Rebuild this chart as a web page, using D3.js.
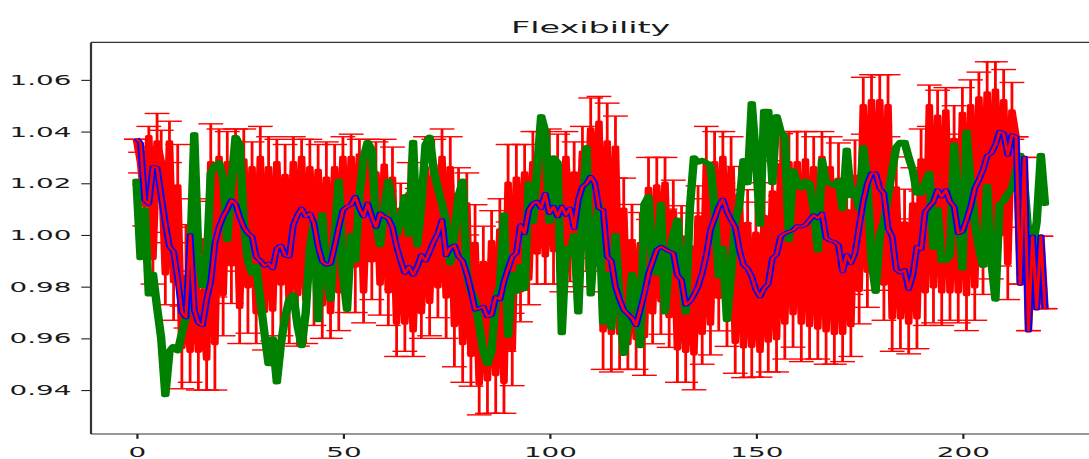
<!DOCTYPE html>
<html>
<head>
<meta charset="utf-8">
<script src="https://cdn.jsdelivr.net/npm/d3@7"></script>
<style>
  body { margin: 0; background: #fff; }
  svg { display: block; }
</style>
</head>
<body>
<div id="chart"></div>
<script>
// residue-wise flexibility, mean with error, one sequence, and the smoothed mean
const meanFlex = [
  1.037, 1.028, 1.0115, 1.038, 0.991, 1.036, 1.0285, 0.985, 1.036, 0.982,
  1.019, 0.9565, 0.984, 0.955, 1.000, 0.955, 0.9785, 0.952, 1.028, 0.958,
  1.030, 0.977, 1.028, 0.9885, 1.030, 0.972, 1.029, 0.980, 1.026, 0.970,
  1.030, 0.9705, 1.026, 0.971, 1.028, 0.981, 1.023, 0.973, 1.028, 0.977,
  1.030, 0.975, 1.026, 0.985, 1.025, 0.973, 1.022, 0.970, 1.026, 0.978,
  1.030, 0.982, 1.030, 0.988, 1.031, 0.978, 1.027, 0.990, 1.024, 0.981,
  1.027, 0.978, 1.022, 0.966, 1.010, 0.966, 1.016, 0.963, 1.004, 0.970,
  1.026, 0.974, 1.027, 0.980, 1.030, 0.976, 1.026, 0.965, 1.016, 0.958,
  1.012, 0.9535, 0.9967, 0.9424, 0.9894, 0.944, 0.9974, 0.946, 1.002, 0.943,
  1.020, 0.9557, 1.022, 0.9784, 1.024, 0.983, 1.028, 0.993, 1.030, 0.992,
  1.029, 0.994, 1.027, 0.992, 1.030, 0.995, 1.024, 0.990, 1.032, 0.998,
  1.041, 1.003, 1.0436, 0.963, 1.036, 0.962, 1.034, 0.962, 1.010, 0.958,
  0.9978, 0.960, 0.9967, 0.9607, 1.018, 0.9699, 1.019, 0.9746, 1.020, 0.9685,
  1.0092, 0.956, 0.9993, 0.955, 0.9955, 0.9541, 1.007, 0.962, 1.028, 0.9656,
  1.028, 0.9759, 1.030, 0.9699, 1.026, 0.9585, 1.0155, 0.9568, 1.0045, 0.957,
  1.0007, 0.955, 1.0072, 0.959, 1.0167, 0.960, 1.0272, 0.966, 1.028, 0.9696,
  1.028, 0.966, 1.029, 0.965, 1.026, 0.964, 1.030, 0.963, 1.026, 0.962,
  1.0216, 0.962, 1.0094, 0.965, 1.0227, 0.9786, 1.050, 0.986, 1.052, 0.9916,
  1.052, 0.981, 1.050, 0.968, 1.0182, 0.968, 1.0047, 0.966, 1.012, 0.968,
  1.029, 0.978, 1.050, 0.980, 1.046, 0.978, 1.048, 0.978, 1.037, 0.978,
  1.047, 0.977, 1.050, 0.980, 1.053, 0.991, 1.055, 0.996, 1.056, 1.000,
  1.052, 0.989, 1.048, 1.038, 0.981, 1.030, 0.963, 0.9995, 0.9715, 0.9995,
  0.9715
];
const meanErr = [
  0.000, 0.004, 0.008, 0.004, 0.010, 0.011, 0.012, 0.012, 0.008, 0.015,
  0.016, 0.016, 0.020, 0.012, 0.014, 0.015, 0.020, 0.012, 0.015, 0.018,
  0.011, 0.016, 0.012, 0.015, 0.011, 0.014, 0.012, 0.018, 0.010, 0.012,
  0.012, 0.015, 0.012, 0.012, 0.009, 0.020, 0.012, 0.015, 0.010, 0.020,
  0.007, 0.017, 0.011, 0.020, 0.010, 0.013, 0.014, 0.010, 0.009, 0.015,
  0.008, 0.012, 0.009, 0.018, 0.006, 0.012, 0.010, 0.015, 0.012, 0.012,
  0.010, 0.013, 0.012, 0.013, 0.010, 0.011, 0.012, 0.010, 0.014, 0.010,
  0.012, 0.013, 0.010, 0.012, 0.011, 0.016, 0.012, 0.016, 0.010, 0.015,
  0.012, 0.012, 0.015, 0.012, 0.014, 0.013, 0.012, 0.015, 0.012, 0.012,
  0.015, 0.014, 0.013, 0.012, 0.011, 0.010, 0.012, 0.012, 0.010, 0.011,
  0.012, 0.013, 0.012, 0.014, 0.010, 0.013, 0.012, 0.010, 0.010, 0.012,
  0.012, 0.012, 0.010, 0.015, 0.015, 0.015, 0.012, 0.014, 0.012, 0.010,
  0.014, 0.012, 0.012, 0.015, 0.012, 0.012, 0.011, 0.013, 0.010, 0.012,
  0.012, 0.013, 0.012, 0.012, 0.013, 0.014, 0.012, 0.012, 0.014, 0.012,
  0.012, 0.013, 0.010, 0.013, 0.012, 0.012, 0.011, 0.012, 0.013, 0.012,
  0.012, 0.010, 0.013, 0.012, 0.012, 0.013, 0.012, 0.014, 0.012, 0.013,
  0.012, 0.015, 0.011, 0.013, 0.012, 0.012, 0.010, 0.013, 0.012, 0.012,
  0.014, 0.011, 0.012, 0.012, 0.014, 0.013, 0.011, 0.014, 0.010, 0.013,
  0.010, 0.014, 0.012, 0.013, 0.012, 0.012, 0.013, 0.012, 0.014, 0.012,
  0.012, 0.013, 0.008, 0.014, 0.010, 0.013, 0.009, 0.011, 0.013, 0.012,
  0.010, 0.014, 0.010, 0.013, 0.010, 0.014, 0.012, 0.013, 0.011, 0.012,
  0.012, 0.014, 0.011, 0.000, 0.000, 0.000, 0.000, 0.000, 0.000, 0.000,
  0.000
];
const seqFlex = [
  1.021, 0.991, 1.010, 0.977, 0.985, 0.972, 0.960, 0.938, 0.955, 0.957,
  0.955, 0.962, 0.968, 0.990, 1.039, 0.992, 0.980, 0.988, 1.024, 1.027,
  1.028, 1.022, 0.998, 1.020, 1.038, 1.035, 1.005, 0.990, 0.985, 0.988,
  0.975, 0.962, 0.950, 0.960, 0.943, 0.958, 0.968, 0.975, 0.977, 0.965,
  0.957, 0.970, 0.995, 1.005, 0.967, 1.008, 0.985, 0.975, 1.000, 1.021,
  0.985, 0.971, 1.000, 0.990, 1.015, 1.030, 1.036, 1.033, 1.005, 0.996,
  1.010, 1.021, 1.010, 1.000, 1.005, 1.015, 1.000, 1.036, 0.996, 1.012,
  1.035, 1.038, 1.025, 1.018, 1.012, 1.005, 0.989, 1.000, 1.015, 1.021,
  0.985, 0.978, 0.975, 0.965, 0.955, 0.950, 0.955, 0.975, 0.980, 1.008,
  0.961, 0.985, 0.978, 0.988, 0.979, 1.020, 1.005, 1.025, 1.046, 1.040,
  1.005, 1.030, 1.028, 0.962, 0.995, 0.992, 1.000, 0.970, 1.010, 1.034,
  0.977, 1.000, 1.012, 0.966, 0.985, 0.964, 1.000, 0.975, 0.954, 0.965,
  0.985, 0.980, 0.957, 1.012, 1.015, 0.990, 0.985, 1.012, 0.970, 0.990,
  1.000, 1.006, 0.985, 0.970, 1.010, 1.030, 1.028, 1.029, 1.028, 1.027,
  1.010, 0.984, 0.995, 0.967, 0.985, 1.005, 1.012, 1.029, 1.020, 1.051,
  1.030, 1.004, 1.048, 1.048, 1.020, 1.046, 1.040, 1.038, 0.998, 1.025,
  1.020, 1.018, 1.021, 1.020, 1.010, 0.994, 1.029, 1.020, 1.020, 1.019,
  1.021, 1.010, 1.033, 1.015, 1.018, 1.010, 1.034, 1.020, 0.990, 0.978,
  1.000, 1.005, 1.015, 1.025, 1.034, 1.036, 1.036, 1.030, 1.025, 1.016,
  1.016, 1.020, 1.024, 0.995, 1.010, 0.990, 0.990, 0.992, 1.035, 1.010,
  0.987, 1.040, 1.020, 1.005, 0.995, 0.988, 1.019, 0.990, 0.975, 1.012,
  1.013, 1.016, 1.018, 1.025, 1.031, 1.020, 1.000, 0.995, 1.005, 1.031,
  1.012
];
const smoothFlex = [
  1.0374, 1.0355, 1.0135, 1.012, 1.0264, 1.026, 1.015, 1.0045, 0.9955, 0.9936,
  0.983, 0.970, 0.968, 1.000, 0.971, 0.966, 0.965, 0.975, 0.982, 0.9968,
  1.003, 1.007, 1.010, 1.0135, 1.012, 1.007, 1.003, 1.0006, 0.9994, 0.9916,
  0.990, 0.988, 0.989, 0.987, 0.9948, 0.996, 0.992, 0.9916, 1.0039, 1.0077,
  1.0103, 1.0071, 1.0084, 1.0045, 0.9955, 0.9897, 0.9884, 0.9888, 0.9955, 1.003,
  1.0097, 1.011, 1.0116, 1.0148, 1.0103, 1.0071, 1.0122, 1.0071, 1.003, 1.0084,
  1.0071, 1.0064, 1.003, 0.9955, 0.990, 0.9852, 0.9877, 0.9845, 0.9877, 0.9923,
  0.990, 0.9936, 0.9974, 1.0006, 1.0058, 0.992, 0.995, 0.996, 0.9916, 0.990,
  0.985, 0.9787, 0.971, 0.9716, 0.9723, 0.9684, 0.969, 0.976, 0.975, 0.982,
  0.987, 0.9916, 0.993, 1.0039, 1.0006, 1.0097, 1.0122, 1.0129, 1.0103, 1.016,
  1.0084, 1.011, 1.0071, 1.011, 1.0077, 1.0103, 1.0026, 1.0135, 1.0187, 1.020,
  1.0226, 1.020, 1.0103, 1.0097, 0.9916, 0.990, 0.980, 0.975, 0.971, 0.9694,
  0.9678, 0.965, 0.971, 0.9774, 0.985, 0.9897, 0.9942, 0.9955, 0.9945, 0.9936,
  0.993, 0.9845, 0.9826, 0.9729, 0.9742, 0.9768, 0.980, 0.9852, 0.9923, 1.0019,
  1.0064, 1.011, 1.0138, 1.009, 1.0058, 1.003, 0.9942, 0.9884, 0.9871, 0.9839,
  0.9787, 0.9761, 0.9794, 0.981, 0.991, 0.9923, 0.9994, 1.0006, 1.0013, 1.0019,
  1.0035, 1.0032, 1.0039, 1.0058, 1.0077, 1.0064, 1.0084, 0.9987, 0.9978, 0.9974,
  0.9961, 0.9858, 0.9923, 0.989, 0.9929, 1.0032, 1.0129, 1.020, 1.0239, 1.0239,
  1.018, 1.0161, 1.0026, 0.9994, 0.9865, 0.9854, 0.9865, 0.979, 0.9845, 0.9955,
  0.9945, 1.009, 1.011, 1.0129, 1.0174, 1.0148, 1.0174, 1.0129, 1.011, 1.0006,
  1.0013, 1.0058, 1.011, 1.018, 1.0213, 1.0251, 1.0306, 1.0316, 1.0348, 1.040,
  1.0393, 1.0309, 1.0387, 1.038, 0.981, 1.030, 0.963, 0.9995, 0.9715, 0.9995,
  0.9715
];
const xTicks = [0, 50, 100, 150, 200];
const yTicks = [0.94, 0.96, 0.98, 1.00, 1.02, 1.04, 1.06];

const width = 1089, height = 459;
// the source picture is stretched sideways, so draw in half width and scale x by 2
const stretchX = 2, stretchY = 1;
const font = "DejaVu Sans";

const svg = d3.select("#chart").append("svg")
    .attr("width", width)
    .attr("height", height);
const g = svg.append("g")
    .attr("transform", "scale(" + stretchX + "," + stretchY + ")");

const plotLeft = 45.5, plotRight = 545.2, plotTop = 42.4, plotBottom = 434;
const x = d3.scaleLinear().domain([-11, 231]).range([plotLeft, plotRight]);
const y = d3.scaleLinear().domain([0.923, 1.0745]).range([plotBottom, plotTop]);

const idx = d3.range(meanFlex.length);

// red error bars
const eb = g.append("g");
eb.append("path")
    .datum(idx)
    .attr("fill", "none")
    .attr("stroke", "#ff0000")
    .attr("stroke-width", 3.8)
    .attr("stroke-linejoin", "round")
    .attr("d", d3.line().x(i => x(i)).y(i => y(meanFlex[i])));
eb.selectAll(".bar")
    .data(idx)
    .enter().append("line")
    .attr("x1", i => x(i)).attr("x2", i => x(i))
    .attr("y1", i => y(meanFlex[i] - meanErr[i]))
    .attr("y2", i => y(meanFlex[i] + meanErr[i]))
    .attr("stroke", "#ff0000")
    .attr("stroke-width", 1.4);
const capHalf = 6.2;
[-1, 1].forEach(s => {
    eb.selectAll(".cap" + s)
        .data(idx)
        .enter().append("line")
        .attr("x1", i => x(i) - capHalf).attr("x2", i => x(i) + capHalf)
        .attr("y1", i => y(meanFlex[i] + s * meanErr[i]))
        .attr("y2", i => y(meanFlex[i] + s * meanErr[i]))
        .attr("stroke", "#ff0000")
        .attr("stroke-width", 1.4);
});

// green single sequence
g.append("path")
    .datum(idx)
    .attr("fill", "none")
    .attr("stroke", "#008000")
    .attr("stroke-width", 4.2)
    .attr("stroke-linejoin", "round")
    .attr("stroke-linecap", "round")
    .attr("d", d3.line().x(i => x(i)).y(i => y(seqFlex[i])));

// smoothed mean: blue under a thin red line
const smoothLine = d3.line().x(i => x(i)).y(i => y(smoothFlex[i]));
g.append("path")
    .datum(idx)
    .attr("fill", "none")
    .attr("stroke", "#0000ff")
    .attr("stroke-width", 3.4)
    .attr("stroke-linejoin", "round")
    .attr("d", smoothLine);
g.append("path")
    .datum(idx)
    .attr("fill", "none")
    .attr("stroke", "#ff0000")
    .attr("stroke-width", 1.5)
    .attr("stroke-linejoin", "round")
    .attr("d", smoothLine);

// axes
const tickLen = 4.86;
const yAxis = g.append("g")
    .attr("transform", "translate(" + plotLeft + ",0)")
    .call(d3.axisLeft(y).tickValues(yTicks).tickFormat(d3.format(".2f"))
        .tickSize(tickLen).tickPadding(4.9).tickSizeOuter(0));
const xAxis = g.append("g")
    .attr("transform", "translate(0," + plotBottom + ")")
    .call(d3.axisBottom(x).tickValues(xTicks).tickFormat(d3.format("d"))
        .tickSize(tickLen).tickPadding(8.2).tickSizeOuter(0));
[yAxis, xAxis].forEach(a => {
    a.select(".domain").remove();
    a.selectAll("line").attr("stroke", "#222").attr("stroke-width", 1.1);
    a.selectAll("text")
        .attr("fill", "#1a1a1a")
        .style("font-family", font)
        .style("font-size", "13.9px");
});

// spines
const spines = g.append("g").attr("stroke", "#333").attr("stroke-width", 1.1).attr("fill", "none");
spines.append("line").attr("x1", plotLeft).attr("x2", plotLeft).attr("y1", plotTop).attr("y2", plotBottom);
spines.append("line").attr("x1", plotRight).attr("x2", plotRight).attr("y1", plotTop).attr("y2", plotBottom);
spines.append("line").attr("x1", plotLeft).attr("x2", plotRight).attr("y1", plotTop).attr("y2", plotTop);
spines.append("line").attr("x1", plotLeft).attr("x2", plotRight).attr("y1", plotBottom).attr("y2", plotBottom);

g.append("text")
    .attr("x", (plotLeft + plotRight) / 2)
    .attr("y", 33.3)
    .attr("text-anchor", "middle")
    .attr("fill", "#1a1a1a")
    .style("font-family", font)
    .style("font-size", "16.7px")
    .text("Flexibility");
</script>
</body>
</html>
